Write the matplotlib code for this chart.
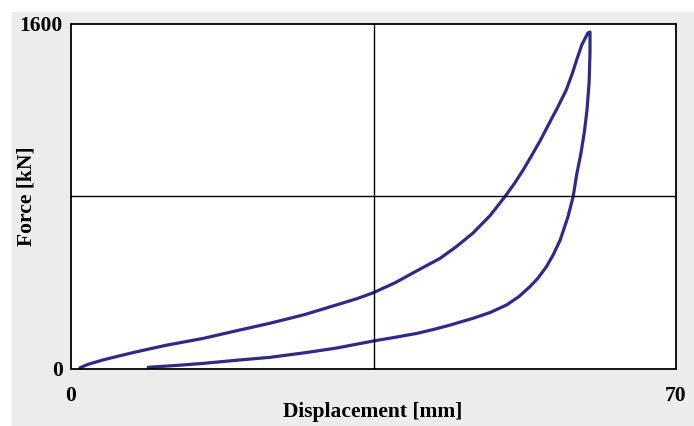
import matplotlib.pyplot as plt
from matplotlib.patches import Rectangle

# Loading branch (displacement mm, force kN)
load_disp = [1.04, 2.0, 3.7, 5.5, 7.6, 11.0, 15.3, 19.0, 23.0, 27.0, 30.7, 33.0,
             35.0, 37.5, 40.0, 42.7, 44.5, 46.5, 48.5, 50.2, 51.3, 52.3, 53.3,
             54.3, 55.6, 56.2, 57.3, 58.0, 58.5, 59.1, 59.8, 60.05]
load_force = [6, 22, 42, 60, 80, 110, 142, 176, 212, 252, 297, 325,
              354, 400, 455, 513, 565, 630, 712, 799, 860, 922, 990,
              1060, 1160, 1205, 1294, 1370, 1433, 1503, 1558, 1563]

# Unloading branch
unload_disp = [60.05, 60.05, 59.95, 59.7, 59.4, 59.0, 58.5, 58.1, 57.5, 56.6,
               55.8, 55.0, 54.0, 53.1, 51.8, 50.4, 48.5, 46.5, 43.8, 42.0,
               40.0, 37.5, 35.0, 30.7, 27.0, 23.0, 19.0, 15.3, 12.0, 8.94]
unload_force = [1563, 1470, 1330, 1200, 1100, 1000, 900, 799, 706, 598,
                530, 474, 420, 382, 335, 297, 262, 235, 203, 184,
                165, 147, 130, 97, 75, 54, 40, 26, 16, 8]

x_ticks = [0, 70]
y_ticks = [0, 1600]

plt.rcParams['font.family'] = ['Liberation Serif', 'DejaVu Serif']

fig = plt.figure(figsize=(6.94, 4.26), dpi=100, facecolor="white")
fig.add_artist(Rectangle((12 / 694, 0), 1, (426 - 12) / 426,
                         transform=fig.transFigure, facecolor="#ececec",
                         edgecolor="none", zorder=-10))

ax = fig.add_axes([71 / 694, 57 / 426, 605 / 694, 345 / 426])
ax.set_facecolor("white")

line_color = "#2e2a8a"
ax.plot(load_disp + unload_disp, load_force + unload_force,
        color=line_color, lw=2.3, solid_capstyle="round", solid_joinstyle="round")

ax.axvline(35, color="black", lw=1)
ax.axhline(800, color="black", lw=1)

ax.set_xlim(0, 70)
ax.set_ylim(0, 1600)
ax.set_xticks(x_ticks)
ax.set_yticks(y_ticks)
ax.tick_params(length=0, labelsize=15.5)
ax.tick_params(axis="x", pad=12)
ax.tick_params(axis="y", pad=6)
for lab in ax.get_xticklabels() + ax.get_yticklabels():
    lab.set_fontweight("bold")

for s in ax.spines.values():
    s.set_color("black")
    s.set_linewidth(1.3)

# axis titles placed where the reference has them
fig.text(373 / 694, 1 - 412 / 426, "Displacement [mm]", fontsize=15.5,
         fontweight="bold", ha="center", va="center")
fig.text(27 / 694, 1 - 196 / 426, "Force [kN]", fontsize=15.5,
         fontweight="bold", rotation=90, ha="center", va="center")

fig.savefig("out.png", dpi=100, facecolor=fig.get_facecolor())
